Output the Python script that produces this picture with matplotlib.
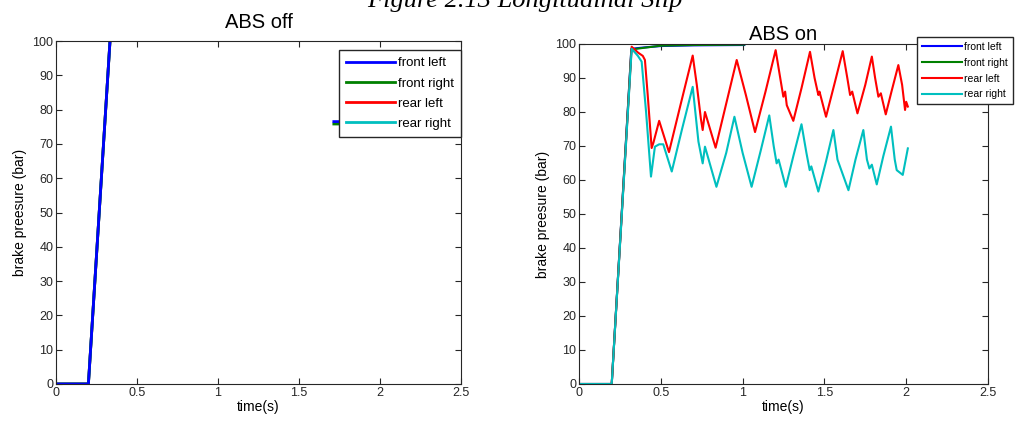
"""
ABS off / ABS on brake pressure comparison (Figure 2.13 Longitudinal Slip).
"""
import numpy as np
import matplotlib
matplotlib.use("Agg")
import matplotlib.pyplot as plt

plt.rcParams['font.family'] = ['Liberation Sans', 'DejaVu Sans']

series_names = ["front left", "front right", "rear left", "rear right"]
series_colors = ["#0000ff", "#008000", "#ff0000", "#00bfbf"]

# ABS off: pressure ramps up past 100 bar, a short piece near 76 bar peeks out left of the legend
off_time = [0.0, 0.2, 0.40, np.nan, 1.715, 1.78]
off_front_left = [0.0, 0.0, 150.0, np.nan, 76.5, 76.5]
off_front_right = [0.0, 0.0, 150.0, np.nan, 75.8, 75.8]
off_rear_time = [0.0, 0.2, 0.40]
off_rear_left = [0.0, 0.0, 150.0]
off_rear_right = [0.0, 0.0, 150.0]

# ABS on
on_front_time = [0.0, 0.2, 0.32, 0.40, 0.50, 0.70, 1.01]
on_front_left = [0.0, 0.0, 98.6, 99.0, 99.4, 99.6, 99.7]
on_front_right = [0.0, 0.0, 98.4, 98.9, 99.5, 99.7, 99.8]

on_rear_left_time = [0.0, 0.2, 0.322, 0.36, 0.39, 0.403, 0.42, 0.444, 0.455, 0.49, 0.55,
                     0.62, 0.695, 0.72, 0.745, 0.756, 0.77, 0.835, 0.90, 0.964,
                     1.02, 1.076, 1.14, 1.202, 1.23, 1.249, 1.26, 1.27, 1.31,
                     1.36, 1.412, 1.44, 1.463, 1.47, 1.51, 1.56, 1.612, 1.64,
                     1.657, 1.67, 1.702, 1.75, 1.79, 1.81, 1.83, 1.845, 1.875,
                     1.91, 1.952, 1.975, 1.993, 2.0, 2.01]
on_rear_left = [0.0, 0.0, 99.2, 97.5, 96.5, 95.3, 85.0, 69.4, 71.0, 77.4, 68.2,
                82.0, 96.6, 88.0, 78.0, 74.7, 80.0, 69.5, 82.5, 95.3,
                85.0, 74.1, 86.0, 98.2, 90.0, 84.5, 86.0, 82.0, 77.4,
                87.0, 97.7, 90.0, 85.0, 86.0, 78.6, 88.0, 97.9, 90.0,
                85.0, 86.0, 79.6, 88.0, 96.3, 90.0, 84.5, 85.5, 79.3,
                86.0, 93.8, 88.0, 80.6, 83.0, 81.6]

on_rear_right_time = [0.0, 0.2, 0.322, 0.36, 0.383, 0.41, 0.44, 0.464, 0.49, 0.515, 0.567,
                      0.63, 0.695, 0.73, 0.756, 0.77, 0.84, 0.90, 0.95,
                      1.00, 1.055, 1.11, 1.163, 1.19, 1.208, 1.22, 1.264, 1.31,
                      1.36, 1.39, 1.41, 1.42, 1.463, 1.51, 1.555, 1.58, 1.606,
                      1.647, 1.69, 1.738, 1.76, 1.775, 1.79, 1.82, 1.86, 1.907,
                      1.93, 1.942, 1.979, 2.01]
on_rear_right = [0.0, 0.0, 98.6, 96.5, 94.8, 80.0, 61.0, 69.8, 70.5, 70.5, 62.5,
                 75.0, 87.4, 71.3, 64.9, 69.8, 58.0, 68.0, 78.6,
                 68.0, 58.0, 68.5, 79.0, 70.0, 64.9, 66.0, 58.0, 67.0,
                 76.4, 68.0, 62.9, 64.0, 56.6, 65.5, 74.7, 66.0, 62.5,
                 57.0, 66.0, 74.7, 66.0, 63.4, 64.5, 58.7, 67.0, 75.7,
                 66.0, 62.9, 61.5, 69.3]

x_ticks = [0, 0.5, 1, 1.5, 2, 2.5]
y_ticks = list(range(0, 101, 10))


def style_axes(ax, title, title_pad):
    ax.set_xlim(0, 2.5)
    ax.set_ylim(0, 100)
    ax.set_xticks(x_ticks)
    ax.set_xticklabels(["0", "0.5", "1", "1.5", "2", "2.5"])
    ax.set_yticks(y_ticks)
    ax.tick_params(direction="in", top=True, right=True, labelsize=9,
                   length=4, width=0.8, colors="#262626", pad=2)
    for spine in ax.spines.values():
        spine.set_linewidth(0.8)
        spine.set_color("#262626")
    ax.set_title(title, fontsize=14.5, pad=title_pad)
    ax.set_xlabel("time(s)", fontsize=10, labelpad=1)
    ax.set_ylabel("brake preesure (bar)", fontsize=10, labelpad=4)


fig = plt.figure(figsize=(10.15, 4.21), dpi=100)
fig.text(0.517, 1 - 7 / 421, "Figure 2.13 Longitudinal Slip", ha="center", va="baseline",
         fontsize=19, style="italic", family=["Liberation Serif", "DejaVu Serif"])

ax_off = fig.add_axes([56 / 1015, 1 - 384 / 421, 405 / 1015, 343 / 421])
ax_off.plot(off_rear_time, off_rear_left, color=series_colors[2], lw=2, label=series_names[2])
ax_off.plot(off_rear_time, off_rear_right, color=series_colors[3], lw=2, label=series_names[3])
ax_off.plot(off_time, off_front_right, color=series_colors[1], lw=2, label=series_names[1])
ax_off.plot(off_time, off_front_left, color=series_colors[0], lw=2, label=series_names[0])
style_axes(ax_off, "ABS off", 9)
handles, labels = ax_off.get_legend_handles_labels()
order = [labels.index(name) for name in series_names]
leg = ax_off.legend([handles[i] for i in order], [labels[i] for i in order],
                    loc="upper right", bbox_to_anchor=(1.0, 0.974), borderaxespad=0,
                    fontsize=9.5, handlelength=3.7, handletextpad=0.2, labelspacing=0.6,
                    fancybox=False, framealpha=1, edgecolor="#262626", borderpad=0.55)
leg.get_frame().set_linewidth(1.0)

ax_on = fig.add_axes([579 / 1015, 1 - 384 / 421, 409 / 1015, 340 / 421])
ax_on.plot(on_front_time, on_front_left, color=series_colors[0], lw=1.5, label=series_names[0])
ax_on.plot(on_front_time, on_front_right, color=series_colors[1], lw=1.5, label=series_names[1])
ax_on.plot(on_rear_left_time, on_rear_left, color=series_colors[2], lw=1.5, label=series_names[2])
ax_on.plot(on_rear_right_time, on_rear_right, color=series_colors[3], lw=1.5, label=series_names[3])
style_axes(ax_on, "ABS on", 3)
leg2 = ax_on.legend(loc="upper left", bbox_to_anchor=(0.826, 1.021), borderaxespad=0,
                    fontsize=7.5, handlelength=3.8, handletextpad=0.2, labelspacing=0.55,
                    fancybox=False, framealpha=1, edgecolor="#262626", borderpad=0.5)
leg2.get_frame().set_linewidth(1.0)
leg2.set_clip_on(False)

fig.savefig("out.png", dpi=100)
